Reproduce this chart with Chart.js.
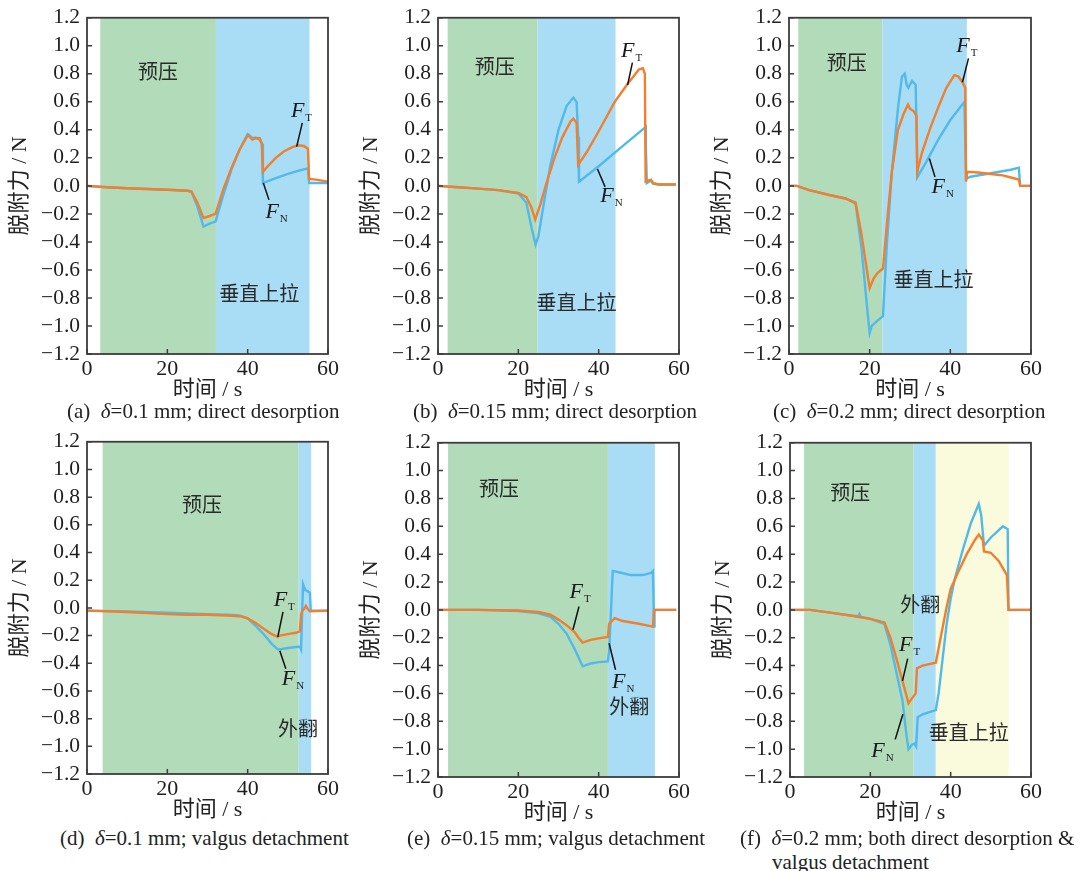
<!DOCTYPE html>
<html><head><meta charset="utf-8">
<script src="https://cdn.jsdelivr.net/npm/chart.js@4.4.1/dist/chart.umd.min.js"></script>
<style>
body{margin:0;background:#fff;width:1081px;height:871px;position:relative;overflow:hidden}
canvas{position:absolute}
.cap{position:absolute;font-family:'Liberation Serif',serif;font-size:21px;line-height:24px;color:#222;white-space:pre}
.cap i{font-style:italic}
</style></head><body>
<canvas id="ca" width="343" height="404" style="left:0;top:0"></canvas>
<canvas id="cb" width="343" height="404" style="left:351px;top:0"></canvas>
<canvas id="cc" width="344" height="404" style="left:702px;top:0"></canvas>
<canvas id="cd" width="343" height="400" style="left:0;top:424px"></canvas>
<canvas id="ce" width="343" height="402" style="left:351px;top:425px"></canvas>
<canvas id="cf" width="343" height="402" style="left:703px;top:425px"></canvas>
<div class="cap" style="left:67px;top:399px">(a)  <i>δ</i>=0.1 mm; direct desorption</div>
<div class="cap" style="left:413px;top:399px">(b)  <i>δ</i>=0.15 mm; direct desorption</div>
<div class="cap" style="left:773px;top:399px">(c)  <i>δ</i>=0.2 mm; direct desorption</div>
<div class="cap" style="left:60px;top:826px">(d)  <i>δ</i>=0.1 mm; valgus detachment</div>
<div class="cap" style="left:407px;top:826px">(e)  <i>δ</i>=0.15 mm; valgus detachment</div>
<div class="cap" style="left:740px;top:826px">(f)  <i>δ</i>=0.2 mm; both direct desorption &amp;</div>
<div class="cap" style="left:772px;top:850px">valgus detachment</div>
<script>
// ---------- data ----------
const xTicks = [0, 20, 40, 60];
const yTicks = [-1.2,-1.0,-0.8,-0.6,-0.4,-0.2,0.0,0.2,0.4,0.6,0.8,1.0,1.2];

const a_FT = [[0,0],[5,-0.01],[10,-0.017],[15,-0.022],[20,-0.028],[25,-0.035],[26,-0.04],[27.5,-0.12],[29,-0.23],[30.5,-0.215],[32,-0.2],[34,-0.02],[36,0.13],[38,0.26],[40,0.36],[40.5,0.35],[41.2,0.33],[42,0.34],[43,0.34],[43.5,0.3],[43.8,0.1],[45,0.14],[47,0.2],[49,0.245],[51,0.275],[52.5,0.29],[54,0.285],[55,0.265],[55.3,0.05],[57,0.045],[60,0.03]];
const a_FN = [[0,0],[5,-0.01],[10,-0.017],[15,-0.022],[20,-0.028],[25,-0.035],[26,-0.04],[27.5,-0.15],[29,-0.29],[30.5,-0.27],[32,-0.255],[34,-0.06],[36,0.12],[38,0.26],[40,0.37],[40.5,0.36],[41.2,0.34],[42,0.345],[43,0.33],[43.6,0.3],[43.8,0.02],[46,0.045],[50,0.085],[53,0.11],[55,0.125],[55.3,0.02],[60,0.02]];
const a_phases = [[3.3,32.1],[32.1,55.4]];

const b_FT = [[0,0],[5,-0.01],[10,-0.02],[15,-0.03],[20,-0.05],[22,-0.08],[23.2,-0.15],[24.2,-0.24],[25.5,-0.13],[27,0.02],[29,0.2],[31,0.35],[33,0.46],[33.7,0.48],[34.5,0.45],[34.9,0.15],[37,0.24],[40,0.39],[44,0.6],[47,0.72],[50,0.83],[51,0.84],[51.5,0.8],[51.7,0.03],[52.5,0.04],[53,0.045],[53.6,0.02],[55,0.01],[59.2,0.01]];
const b_FN = [[0,0],[5,-0.01],[10,-0.02],[15,-0.03],[20,-0.055],[22,-0.12],[23.3,-0.3],[24.3,-0.42],[25,-0.36],[26.5,-0.1],[28,0.15],[30,0.4],[32,0.57],[33.7,0.63],[34.5,0.6],[34.9,0.35],[35.1,0.03],[40,0.14],[45,0.26],[50,0.38],[51.7,0.42],[51.75,0.27],[52,0.02],[52.5,0.03],[53,0.035],[53.6,0.015],[55,0.01],[59.2,0.01]];
const b_phases = [[2.4,24.8],[24.8,44.2]];

const c_FT = [[0,0],[2,0],[5,-0.03],[10,-0.065],[14,-0.09],[16.5,-0.12],[18,-0.35],[19.3,-0.6],[20,-0.73],[21,-0.66],[22,-0.62],[23.3,-0.59],[24.5,-0.2],[25.5,0.1],[27,0.4],[28.5,0.52],[29.5,0.58],[30,0.55],[31,0.53],[31.6,0.5],[31.8,0.1],[33,0.24],[35,0.41],[37,0.56],[39,0.7],[41,0.79],[42,0.78],[43,0.74],[43.7,0.7],[43.9,0.03],[44.2,0.1],[47,0.095],[50,0.085],[53,0.075],[55,0.06],[57,0.045],[57.3,0],[60,0]];
const c_FN = [[0,0],[2,0],[5,-0.03],[10,-0.065],[13,-0.085],[14,-0.09],[16.5,-0.125],[18,-0.45],[19.3,-0.85],[20,-1.05],[20.5,-1.0],[22,-0.96],[23.3,-0.93],[24.3,-0.4],[25.5,0.1],[27,0.55],[28,0.78],[28.7,0.8],[29.2,0.72],[29.6,0.7],[30.5,0.75],[31.4,0.72],[31.7,0.3],[31.8,0.06],[34,0.17],[37,0.33],[40,0.47],[43.5,0.6],[43.9,0.05],[45,0.065],[50,0.09],[55,0.115],[57,0.13],[57.3,0],[60,0]];
const c_phases = [[2.3,23.2],[23.2,44.1]];

const d_FT = [[0,-0.02],[10,-0.03],[20,-0.045],[25,-0.05],[30,-0.05],[35,-0.055],[38,-0.06],[40,-0.075],[42,-0.11],[44,-0.15],[46,-0.19],[47.5,-0.21],[48,-0.2],[50,-0.19],[52,-0.18],[53,-0.17],[53.3,-0.05],[53.6,-0.02],[54,-0.01],[54.5,0.015],[55,-0.01],[55.5,-0.025],[60,-0.02]];
const d_FN = [[0,-0.02],[10,-0.025],[20,-0.035],[25,-0.04],[30,-0.045],[35,-0.05],[38,-0.055],[40,-0.075],[42,-0.13],[44,-0.19],[46,-0.26],[47.5,-0.3],[48,-0.3],[50,-0.29],[53,-0.28],[53.3,-0.3],[53.6,0.0],[53.8,0.17],[54.3,0.13],[55.5,0.11],[55.7,-0.02],[60,-0.02]];
const d_phases = [[3.9,52.7],[52.7,55.8]];

const e_FT = [[0,0],[10,0],[20,-0.005],[25,-0.015],[28,-0.035],[30,-0.07],[32,-0.11],[34,-0.16],[35,-0.2],[36,-0.235],[38,-0.215],[40,-0.205],[42.3,-0.195],[42.6,-0.1],[44,-0.06],[46,-0.08],[50,-0.1],[53.5,-0.12],[53.8,0],[59.3,0]];
const e_FN = [[0,0],[10,0],[20,-0.008],[25,-0.025],[28,-0.05],[30,-0.1],[32,-0.17],[34,-0.28],[36,-0.405],[38,-0.385],[40,-0.375],[42.3,-0.37],[42.6,-0.3],[43,-0.05],[43.5,0.28],[45,0.27],[48,0.25],[51,0.25],[53,0.265],[53.5,0.28],[53.8,-0.12],[53.9,0],[59.3,0]];
const e_phases = [[2.5,42.3],[42.3,54.0]];

const f_FT = [[0,0],[5,0],[10,-0.02],[15,-0.04],[20,-0.065],[23.5,-0.09],[25,-0.2],[26.5,-0.35],[28,-0.51],[29.5,-0.67],[30.5,-0.63],[31.3,-0.6],[31.6,-0.42],[33,-0.4],[36.3,-0.38],[37.5,-0.2],[39,0.02],[40,0.15],[42,0.28],[44,0.4],[46,0.5],[47,0.54],[48,0.5],[48.3,0.42],[50,0.41],[52,0.35],[54,0.25],[54.4,0],[60,0]];
const f_FN = [[0,0],[5,0],[10,-0.02],[15,-0.04],[17,-0.045],[17.3,-0.03],[17.6,-0.05],[20,-0.065],[23.5,-0.1],[25,-0.25],[26.5,-0.45],[28,-0.65],[29,-0.9],[29.5,-1.0],[30.3,-0.97],[31,-0.96],[31.4,-0.98],[31.8,-0.77],[33,-0.75],[36.3,-0.72],[37,-0.6],[38,-0.35],[39,-0.1],[40,0.08],[41,0.22],[43,0.43],[45,0.62],[47,0.76],[47.6,0.68],[48.3,0.46],[50,0.52],[53,0.6],[54.2,0.58],[54.4,0],[60,0]];
const f_phases = [[3.5,30.8],[30.8,36.3],[36.3,54.4]];

// ---------- styling ----------
const GREEN = '#b2dbb9', BLUE_BG = '#a9ddf6', YELLOW = '#fafadc';
const ORANGE = '#f07f2e', BLUE = '#52b9e9';
const SERIF = "'Liberation Serif', 'Noto Sans CJK SC', serif";
const CJK = "'Noto Sans CJK SC', sans-serif";

function fmt(v){ const r = Math.round(v*10)/10; const s = Math.abs(r).toFixed(1); return r < 0 ? '\u2212' + s : s; }

function makePanel(id, FT, FN, phases, phaseColors, plotH, texts, flabels) {
  const canvas = document.getElementById(id);
  const plugin = {
    id: 'panel_' + id,
    beforeDatasetsDraw(chart) {
      const {ctx, chartArea:{top,bottom}, scales:{x}} = chart;
      ctx.save();
      phases.forEach((p,i) => {
        const x0 = x.getPixelForValue(p[0]), x1 = x.getPixelForValue(p[1]);
        ctx.fillStyle = phaseColors[i];
        ctx.fillRect(x0, top, x1 - x0, bottom - top);
      });
      ctx.restore();
    },
    afterDatasetsDraw(chart) {
      const {ctx, chartArea:{top,bottom,left,right}, scales:{x,y}} = chart;
      ctx.save();
      ctx.strokeStyle = '#3c3c3c'; ctx.lineWidth = 1.8;
      ctx.strokeRect(left, top, right-left, bottom-top);
      ctx.lineWidth = 1.5;
      ctx.beginPath();
      xTicks.forEach(v => { const px = x.getPixelForValue(v); ctx.moveTo(px, bottom); ctx.lineTo(px, bottom-5); });
      yTicks.forEach(v => { const py = y.getPixelForValue(v); ctx.moveTo(left, py); ctx.lineTo(left+5, py); });
      ctx.stroke();
      ctx.fillStyle = '#2a2a2a';
      ctx.font = '20px ' + CJK;
      ctx.textAlign = 'center'; ctx.textBaseline = 'middle';
      texts.forEach(t => ctx.fillText(t.s, x.getPixelForValue(t.x), y.getPixelForValue(t.y)));
      ctx.strokeStyle = '#111'; ctx.lineWidth = 1.5;
      flabels.forEach(f => {
        ctx.beginPath();
        ctx.moveTo(x.getPixelForValue(f.l[0]), y.getPixelForValue(f.l[1]));
        ctx.lineTo(x.getPixelForValue(f.l[2]), y.getPixelForValue(f.l[3]));
        ctx.stroke();
        const cx = x.getPixelForValue(f.x), cy = y.getPixelForValue(f.y);
        ctx.font = 'italic 22px ' + SERIF;
        const wF = ctx.measureText('F').width;
        ctx.font = '11px ' + SERIF;
        const wS = ctx.measureText(f.sub).width;
        const x0 = cx - (wF + wS + 1)/2;
        ctx.textAlign = 'left'; ctx.textBaseline = 'alphabetic';
        ctx.font = 'italic 22px ' + SERIF;
        ctx.fillStyle = '#1a1a1a';
        ctx.fillText('F', x0, cy + 8);
        ctx.font = '11px ' + SERIF;
        ctx.fillText(f.sub, x0 + wF + 1, cy + 12);
      });
      ctx.restore();
    }
  };
  return new Chart(canvas, {
    type: 'line',
    data: { datasets: [
      { label: 'F_T', data: FT.map(p => ({x:p[0], y:p[1]})), borderColor: ORANGE, borderWidth: 2.4, pointRadius: 0, tension: 0, order: 0 },
      { label: 'F_N', data: FN.map(p => ({x:p[0], y:p[1]})), borderColor: BLUE, borderWidth: 2.4, pointRadius: 0, tension: 0, order: 1 }
    ]},
    options: {
      responsive: false, animation: false, devicePixelRatio: 1,
      layout: { padding: { top: 17, right: 15, left: 0, bottom: 0 } },
      plugins: { legend: { display: false }, tooltip: { enabled: false } },
      scales: {
        x: {
          type: 'linear', min: 0, max: 60,
          afterFit: s => { s.height = canvas.height - 17 - plotH; },
          ticks: { stepSize: 20, autoSkip: false, font: { family: SERIF, size: 22 }, color: '#1e1e1e', padding: 2, maxRotation: 0 },
          grid: { display: false, drawTicks: false }, border: { display: false },
          title: { display: true, text: '时间 / s', font: { family: SERIF, size: 22 }, color: '#222', padding: { top: 0, bottom: 1 } }
        },
        y: {
          min: -1.2, max: 1.2,
          afterFit: s => { s.width = 87; },
          afterBuildTicks: s => { s.ticks = yTicks.map(v => ({ value: v })); },
          ticks: { autoSkip: false, font: { family: SERIF, size: 21.5, lineHeight: 1 }, color: '#1e1e1e', padding: 7, callback: v => fmt(v) },
          grid: { display: false, drawTicks: false }, border: { display: false },
          title: { display: true, text: '脱附力 / N', font: { family: SERIF, size: 22 }, color: '#222', padding: { top: 7, bottom: 0 } }
        }
      }
    },
    plugins: [plugin]
  });
}

const TWO = [GREEN, BLUE_BG], THREE = [GREEN, BLUE_BG, YELLOW];

makePanel('ca', a_FT, a_FN, a_phases, TWO, 337,
  [{s:'预压', x:17.7, y:0.82}, {s:'垂直上拉', x:42.9, y:-0.77}],
  [{sub:'T', x:53.4, y:0.55, l:[53.6,0.45,52.2,0.28]}, {sub:'N', x:47.2, y:-0.175, l:[43.9,0.02,45.3,-0.1]}]);
makePanel('cb', b_FT, b_FN, b_phases, TWO, 337,
  [{s:'预压', x:14.1, y:0.85}, {s:'垂直上拉', x:34.5, y:-0.83}],
  [{sub:'T', x:48.2, y:0.98, l:[48.4,0.88,47.2,0.72]}, {sub:'N', x:43.2, y:-0.055, l:[39.7,0.12,41.6,-0.007]}]);
makePanel('cc', c_FT, c_FN, c_phases, TWO, 337,
  [{s:'预压', x:14.3, y:0.88}, {s:'垂直上拉', x:35.8, y:-0.67}],
  [{sub:'T', x:44.1, y:1.01, l:[44.5,0.91,43.0,0.74]}, {sub:'N', x:38.1, y:0.005, l:[34.8,0.195,36.2,0.064]}]);
makePanel('cd', d_FT, d_FN, d_phases, TWO, 333,
  [{s:'预压', x:28.6, y:0.75}, {s:'外翻', x:52.5, y:-0.87}],
  [{sub:'T', x:49.1, y:0.07, l:[48.8,-0.029,47.5,-0.21]}, {sub:'N', x:51.3, y:-0.5, l:[48.0,-0.31,49.5,-0.44]}]);
makePanel('ce', e_FT, e_FN, e_phases, TWO, 335,
  [{s:'预压', x:15.2, y:0.87}, {s:'外翻', x:47.6, y:-0.69}],
  [{sub:'T', x:35.4, y:0.143, l:[35.1,0.024,33.6,-0.143]}, {sub:'N', x:46.1, y:-0.5, l:[42.6,-0.24,44.2,-0.43]}]);
makePanel('cf', f_FT, f_FN, f_phases, THREE, 335,
  [{s:'预压', x:15.0, y:0.84}, {s:'外翻', x:32.4, y:0.036}, {s:'垂直上拉', x:44.5, y:-0.88}],
  [{sub:'T', x:29.8, y:-0.24, l:[29.3,-0.35,28.0,-0.51]}, {sub:'N', x:23.0, y:-1.0, l:[28.1,-0.75,26.2,-0.93]}]);
</script>
</body></html>
